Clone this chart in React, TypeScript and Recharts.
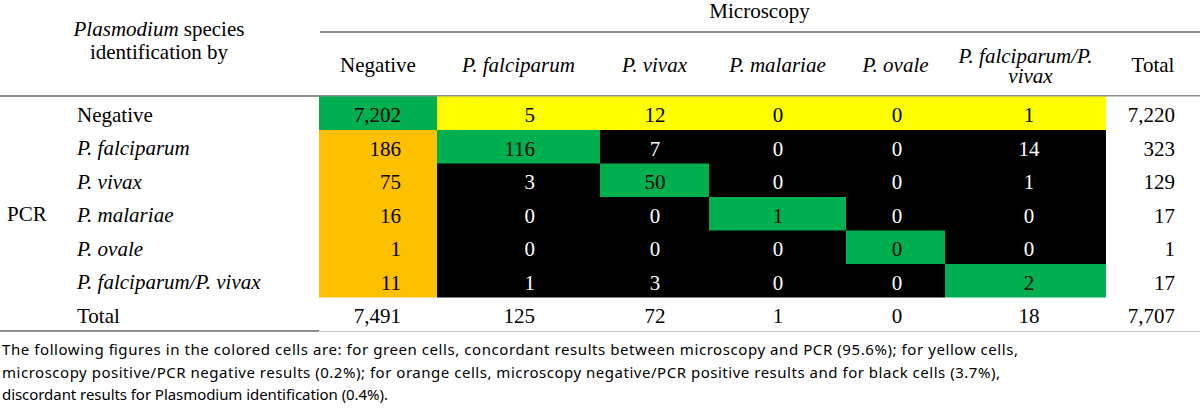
import React from 'react';
import { BarChart, Bar, XAxis, YAxis, Cell, LabelList } from 'recharts';

// ---------- data ----------
const columnLabels = ['Negative', 'P. falciparum', 'P. vivax', 'P. malariae', 'P. ovale', 'P. falciparum/P. vivax', 'Total'];
const rowLabels = ['Negative', 'P. falciparum', 'P. vivax', 'P. malariae', 'P. ovale', 'P. falciparum/P. vivax', 'Total'];
const negativeRow = [7202, 5, 12, 0, 0, 1];
const falciparumRow = [186, 116, 7, 0, 0, 14];
const vivaxRow = [75, 3, 50, 0, 0, 1];
const malariaeRow = [16, 0, 0, 1, 0, 0];
const ovaleRow = [1, 0, 0, 0, 0, 0];
const mixedRow = [11, 1, 3, 0, 0, 2];
const rowTotals = [7220, 323, 129, 17, 1, 17];
const columnTotals = [7491, 125, 72, 1, 0, 18];
const grandTotal = 7707;
const captionLines = [
  'The following figures in the colored cells are: for green cells, concordant results between microscopy and PCR (95.6%); for yellow cells,',
  'microscopy positive/PCR negative results (0.2%); for orange cells, microscopy negative/PCR positive results and for black cells (3.7%),',
  'discordant results for Plasmodium identification (0.4%).',
];

// ---------- layout / style ----------
const W = 1200;
const H = 413;
const LABEL_COL = 319;
const COL_WIDTHS = [118, 163, 109, 137, 99, 161, 94];
const HEADER_H = 96.5;
const TABLE_BOTTOM = 331;
const SERIF = '"Liberation Serif", "Times New Roman", serif';
const SANS = '"Noto Sans", sans-serif';
const FS = 21;
const RULE = '#6a6a6a';
const GREEN = '#00B050';
const YELLOW = '#FFFF00';
const ORANGE = '#FFC000';
const BLACK = '#000000';
const NUMBER_ALIGN = [
  { anchor: 'end', off: 36 },
  { anchor: 'end', off: 65 },
  { anchor: 'middle', off: 0.5 },
  { anchor: 'middle', off: 0.5 },
  { anchor: 'middle', off: 1.5 },
  { anchor: 'middle', off: 3.5 },
  { anchor: 'end', off: 25 },
];
const CAPTION_WIDTHS = [1016, 998, 386];
const CAPTION_BASE = 355;
const CAPTION_LEAD = 22.5;

const bodyRows = [negativeRow, falciparumRow, vivaxRow, malariaeRow, ovaleRow, mixedRow];
const totalWidth = COL_WIDTHS.reduce((a, b) => a + b, 0);
const colCenters = COL_WIDTHS.map((w, i) => COL_WIDTHS.slice(0, i).reduce((a, b) => a + b, 0) + w / 2);

const tableData = rowLabels.map((label, r) => {
  const values = r < bodyRows.length ? [...bodyRows[r], rowTotals[r]] : [...columnTotals, grandTotal];
  const entry: any = { row: label };
  COL_WIDTHS.forEach((w, c) => {
    entry['c' + c] = w;
    entry['v' + c] = values[c];
  });
  return entry;
});

const cellColor = (r: number, c: number) => {
  if (r >= bodyRows.length || c >= bodyRows[0].length) return '#ffffff';
  if (r === c) return GREEN;
  if (r === 0) return YELLOW;
  if (c === 0) return ORANGE;
  return BLACK;
};

const fmt = (v: number) => v.toLocaleString('en-US');
const isItalic = (s: string) => s.startsWith('P.');

const HeaderTick = (props: any) => {
  const { x, index } = props;
  const label = columnLabels[index];
  const style: any = { fontFamily: SERIF, fontSize: FS, fontStyle: isItalic(label) ? 'italic' : 'normal' };
  if (label === 'P. falciparum/P. vivax') {
    return (
      <g>
        <text x={x} y={63} textAnchor="middle" fill="#000" style={style}>P. falciparum/P.</text>
        <text x={x + 5} y={83} textAnchor="middle" fill="#000" style={style}>vivax</text>
      </g>
    );
  }
  return (
    <text x={x} y={72} textAnchor="middle" fill="#000" style={style}>{label}</text>
  );
};

const RowTick = (props: any) => {
  const { y, payload } = props;
  const label = payload.value as string;
  return (
    <text x={77} y={y + 8.5} fill="#000" style={{ fontFamily: SERIF, fontSize: FS, fontStyle: isItalic(label) ? 'italic' : 'normal' }}>
      {label}
    </text>
  );
};

const makeLabel = (c: number) => (props: any) => {
  const { x, y, width, height, value, index } = props;
  const a = NUMBER_ALIGN[c];
  const tx = a.anchor === 'end' ? x + width - a.off : x + width / 2 + a.off;
  const fill = cellColor(index, c) === BLACK ? '#ffffff' : '#000000';
  return (
    <text x={tx} y={y + height / 2 + 8.5} textAnchor={a.anchor} fill={fill} style={{ fontFamily: SERIF, fontSize: FS }}>
      {fmt(value)}
    </text>
  );
};

export default function App() {
  return (
    <div style={{ position: 'absolute', left: 0, top: 0, width: W, height: H, background: '#fff' }}>
      <BarChart
        width={W}
        height={H}
        data={tableData}
        layout="vertical"
        barCategoryGap={0}
        barGap={0}
        margin={{ top: 0, right: 0, bottom: H - TABLE_BOTTOM, left: 0 }}
      >
        <XAxis
          type="number"
          orientation="top"
          domain={[0, totalWidth]}
          ticks={colCenters}
          interval={0}
          height={HEADER_H}
          axisLine={false}
          tickLine={false}
          tick={<HeaderTick />}
        />
        <YAxis
          type="category"
          dataKey="row"
          width={LABEL_COL}
          interval={0}
          axisLine={false}
          tickLine={false}
          tick={<RowTick />}
        />
        {COL_WIDTHS.map((_, c) => (
          <Bar key={c} dataKey={'c' + c} stackId="t" isAnimationActive={false}>
            {tableData.map((_, r) => (
              <Cell key={r} fill={cellColor(r, c)} />
            ))}
            <LabelList dataKey={'v' + c} content={makeLabel(c)} />
          </Bar>
        ))}
        <text x={(LABEL_COL + W) / 2} y={18} textAnchor="middle" style={{ fontFamily: SERIF, fontSize: FS }}>Microscopy</text>
        <text x={159} y={36} textAnchor="middle" style={{ fontFamily: SERIF, fontSize: FS }}>
          <tspan fontStyle="italic">Plasmodium</tspan> species
        </text>
        <text x={159} y={59} textAnchor="middle" style={{ fontFamily: SERIF, fontSize: FS }}>identification by</text>
        <text x={7} y={221} style={{ fontFamily: SERIF, fontSize: FS }}>PCR</text>
        <line x1={LABEL_COL + 1} x2={W} y1={32} y2={32} stroke={RULE} strokeWidth={1.6} />
        <line x1={0} x2={W} y1={96} y2={96} stroke={RULE} strokeWidth={1.6} />
        <line x1={0} x2={W} y1={331} y2={331} stroke={RULE} strokeWidth={1.6} />
        {captionLines.map((l, i) => (
          <text
            key={i}
            x={2}
            y={CAPTION_BASE + i * CAPTION_LEAD}
            textLength={CAPTION_WIDTHS[i]}
            lengthAdjust="spacing"
            fill="#000"
            style={{ fontFamily: SANS, fontSize: 15 }}
          >
            {l}
          </text>
        ))}
      </BarChart>
    </div>
  );
}
